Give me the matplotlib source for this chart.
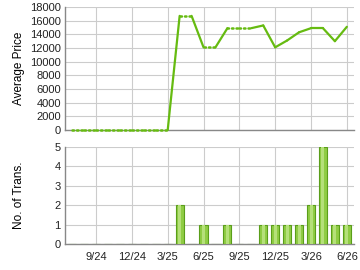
import numpy as np
import matplotlib
matplotlib.use("Agg")
import matplotlib.pyplot as plt

plt.rcParams['font.family'] = ['Liberation Sans', 'DejaVu Sans']

# month index: 0 = Sep 2024
months = list(range(-2, 22))
prices = [0, 0, 0, 0, 0, 0, 0, 0, 0,
          16700, 16700, 12100, 12100, 14900, 14900, 14900, 15300,
          12100, 13100, 14300, 14900, 14900, 13000, 15100]
trans = [0, 0, 0, 0, 0, 0, 0, 0, 0,
         2, 0, 1, 0, 1, 0, 0, 1, 1, 1, 1, 2, 5, 1, 1]
tick_pos = [0, 3, 6, 9, 12, 15, 18, 21]
tick_labels = ['9/24', '12/24', '3/25', '6/25', '9/25', '12/25', '3/26', '6/26']

line_col = '#66bb11'
grid_col = '#cccccc'
axis_col = '#888888'

fig = plt.figure(figsize=(3.6, 2.7), dpi=100)
W, H = 360, 270
ax1 = fig.add_axes([65 / W, 1 - 130 / H, (354 - 65) / W, (130 - 7) / H])
ax2 = fig.add_axes([65 / W, 1 - 244 / H, (354 - 65) / W, (244 - 147) / H])

xlim = (-2.6, 21.6)

# price line: solid where the month has transactions, dotted otherwise
for i in range(len(months) - 1):
    has = trans[i + 1] > 0
    ax1.plot(months[i:i + 2], prices[i:i + 2], color=line_col,
             lw=1.6 if has else 1.8,
             ls='-' if has else (0, (0.6, 1.2)),
             solid_capstyle='round', dash_capstyle='round',
             zorder=5, clip_on=False)

ax1.set_ylim(0, 18000)
ax1.set_yticks(range(0, 18001, 2000))
ax1.set_xlim(*xlim)
ax1.set_xticks(tick_pos)
ax1.set_xticklabels([])
ax1.set_ylabel('Average Price', fontsize=8.5)

ax2.bar(months, trans, width=0.68, color='#8fcc44', edgecolor='#5a9e1a',
        linewidth=0.8, zorder=3)
ax2.bar(months, trans, width=0.25, color='#b5e07a', linewidth=0, zorder=4)
ax2.set_ylim(0, 5)
ax2.set_yticks(range(0, 6))
ax2.set_xlim(*xlim)
ax2.set_xticks(tick_pos)
ax2.set_xticklabels(tick_labels)
ax2.set_ylabel('No. of Trans.', fontsize=8.5)

for ax in (ax1, ax2):
    ax.grid(True, color=grid_col, lw=0.8)
    ax.set_axisbelow(True)
    for s in ('top', 'right'):
        ax.spines[s].set_visible(False)
    for s in ('left', 'bottom'):
        ax.spines[s].set_color(axis_col)
        ax.spines[s].set_linewidth(1.0)
    ax.tick_params(length=0, labelsize=8, colors='#222222', pad=3)
    ax.yaxis.set_label_coords(-0.14, 0.5)
ax2.tick_params(axis='x', pad=6)

fig.savefig('out.png', dpi=100)
